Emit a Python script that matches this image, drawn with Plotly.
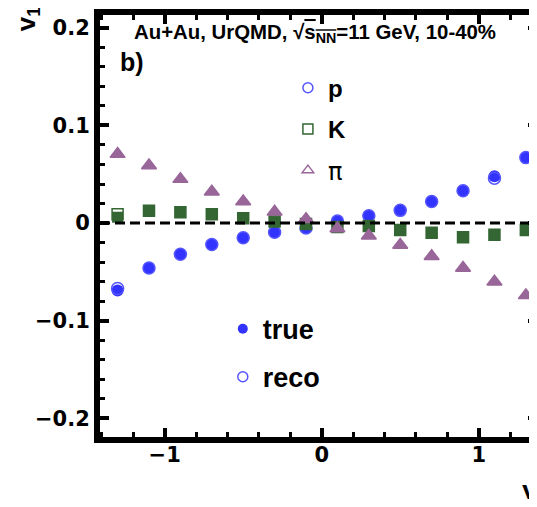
import plotly.graph_objects as go

rapidity = [-1.3, -1.1, -0.9, -0.7, -0.5, -0.3, -0.1, 0.1, 0.3, 0.5, 0.7, 0.9, 1.1, 1.3]
p_true = [-0.069, -0.046, -0.032, -0.022, -0.015, -0.0095, -0.005, 0.002, 0.0075, 0.013, 0.022, 0.033, 0.048, 0.067]
p_reco = [-0.067, -0.046, -0.032, -0.022, -0.015, -0.0095, -0.005, 0.002, 0.0075, 0.013, 0.022, 0.033, 0.046, 0.067]
k_true = [0.006, 0.0126, 0.011, 0.009, 0.005, 0.0015, -0.001, -0.004, -0.003, -0.007, -0.010, -0.0146, -0.012, -0.007]
k_reco = [0.009, 0.0126, 0.011, 0.009, 0.005, 0.0015, -0.001, -0.004, -0.003, -0.007, -0.010, -0.0146, -0.012, -0.007]
pi_true = [0.0706, 0.059, 0.045, 0.032, 0.022, 0.0115, 0.004, -0.0055, -0.013, -0.0225, -0.034, -0.046, -0.060, -0.074]
pi_reco = [0.0706, 0.059, 0.045, 0.032, 0.022, 0.0115, 0.004, -0.0055, -0.013, -0.0225, -0.034, -0.046, -0.060, -0.074]

x_ticks = [-1, 0, 1]
y_ticks = [-0.2, -0.1, 0, 0.1, 0.2]
y_tick_labels = ["\u22120.2", "\u22120.1", "0", "0.1", "0.2"]
x_tick_labels = ["\u22121", "0", "1"]

BLUE = "#3333ff"
BLUE_O = "#5555ff"
GREEN = "#336633"
PURPLE = "#996699"
FONT = "Liberation Sans"

fig = go.Figure()

# data marks
fig.add_trace(go.Scatter(x=rapidity, y=p_true, mode="markers", showlegend=False,
                         marker=dict(symbol="circle", size=12, color=BLUE)))
fig.add_trace(go.Scatter(x=rapidity, y=p_reco, mode="markers", showlegend=False,
                         marker=dict(symbol="circle-open", size=12, color=BLUE_O, line=dict(width=1.5))))
fig.add_trace(go.Scatter(x=rapidity, y=k_true, mode="markers", showlegend=False,
                         marker=dict(symbol="square", size=11, color=GREEN)))
fig.add_trace(go.Scatter(x=rapidity, y=k_reco, mode="markers", showlegend=False,
                         marker=dict(symbol="square-open", size=11, color=GREEN, line=dict(width=1.5))))
fig.add_trace(go.Scatter(x=rapidity, y=pi_true, mode="markers", showlegend=False,
                         marker=dict(symbol="triangle-up", size=13, color=PURPLE)))
fig.add_trace(go.Scatter(x=rapidity, y=pi_reco, mode="markers", showlegend=False,
                         marker=dict(symbol="triangle-up-open", size=13, color=PURPLE, line=dict(width=1.5))))

# legend entries (species)
for name, sym, col, grp in [("p", "circle-open", BLUE_O, "a"),
                            ("K", "square-open", GREEN, "b"),
                            ("<span style='font-family:DejaVu Sans;font-weight:normal'>\u03c0</span>", "triangle-up-open", PURPLE, "c")]:
    fig.add_trace(go.Scatter(x=[None], y=[None], mode="markers", name=name, legend="legend",
                             legendgroup=grp,
                             marker=dict(symbol=sym, size=10, color=col, line=dict(width=1.5))))
# legend entries (true / reco)
fig.add_trace(go.Scatter(x=[None], y=[None], mode="markers", name="true", legend="legend2",
                         legendgroup="t", marker=dict(symbol="circle", size=10, color=BLUE)))
fig.add_trace(go.Scatter(x=[None], y=[None], mode="markers", name="reco", legend="legend2",
                         legendgroup="r", marker=dict(symbol="circle-open", size=10, color=BLUE_O, line=dict(width=1.5))))

axis_font = dict(family="DejaVu Sans", size=21, color="black", weight="bold")

# The page body adds an 8px offset, so the figure is sized to fit inside the
# window; the right frame line falls just past the visible edge as in the reference.
fig.update_layout(
    width=529, height=491,
    margin=dict(l=92, r=0, t=7, b=62, autoexpand=False),
    plot_bgcolor="white", paper_bgcolor="white",
    font=dict(family=FONT),
    xaxis=dict(range=[-1.412, 1.371], tickvals=x_ticks, ticktext=x_tick_labels, automargin=False,
               ticks="inside", ticklen=9, tickwidth=4, tickcolor="black",
               showline=True, linewidth=6, linecolor="black", mirror="ticks",
               showgrid=False, zeroline=False, tickfont=axis_font, ticklabelstandoff=-6,
               minor=dict(dtick=0.2, tick0=0, ticks="inside", ticklen=5, tickwidth=3, tickcolor="black")),
    yaxis=dict(range=[-0.219, 0.213], tickvals=y_ticks, ticktext=y_tick_labels, automargin=False,
               ticks="inside", ticklen=9, tickwidth=4, tickcolor="black",
               showline=True, linewidth=6, linecolor="black", mirror="ticks",
               showgrid=False, zeroline=False, tickfont=axis_font,
               minor=dict(dtick=0.02, tick0=0, ticks="inside", ticklen=5, tickwidth=3, tickcolor="black")),
    legend=dict(x=0.430, y=0.880, xanchor="left", yanchor="top", bgcolor="rgba(0,0,0,0)",
                font=dict(family=FONT, size=24, color="black", weight="bold"),
                tracegroupgap=7, itemwidth=30),
    legend2=dict(x=0.281, y=0.3137, xanchor="left", yanchor="top", bgcolor="rgba(0,0,0,0)",
                 font=dict(family=FONT, size=27, color="black", weight="bold"),
                 tracegroupgap=10, itemwidth=30),
    showlegend=True,
)

fig.add_shape(type="line", xref="x domain", yref="y", x0=0, x1=1, y0=0, y1=0,
              line=dict(color="black", width=3, dash="10px,5px"))

fig.add_annotation(xref="paper", yref="paper", x=0.492, y=0.957, xanchor="center", yanchor="middle",
                   text="Au+Au, UrQMD, \u221a<span style='text-decoration:overline'>s<sub>NN</sub></span>=11 GeV, 10-40%",
                   showarrow=False, font=dict(family=FONT, size=20.4, color="black", weight="bold"))
fig.add_annotation(xref="paper", yref="paper", x=0.041, y=0.889, xanchor="left", yanchor="middle",
                   text="b)", showarrow=False, font=dict(family=FONT, size=25, color="black", weight="bold"))
fig.add_annotation(xref="paper", yref="paper", x=-0.167, y=0.99, xanchor="center", yanchor="middle",
                   text="v<sub>1</sub>", textangle=-90, showarrow=False,
                   font=dict(family=FONT, size=26, color="black", weight="bold"))
fig.add_annotation(xref="paper", yref="paper", x=0.961, y=-0.126, xanchor="left", yanchor="middle",
                   text="y", showarrow=False, font=dict(family=FONT, size=28, color="black", weight="bold"))

fig.write_html("out.html")
